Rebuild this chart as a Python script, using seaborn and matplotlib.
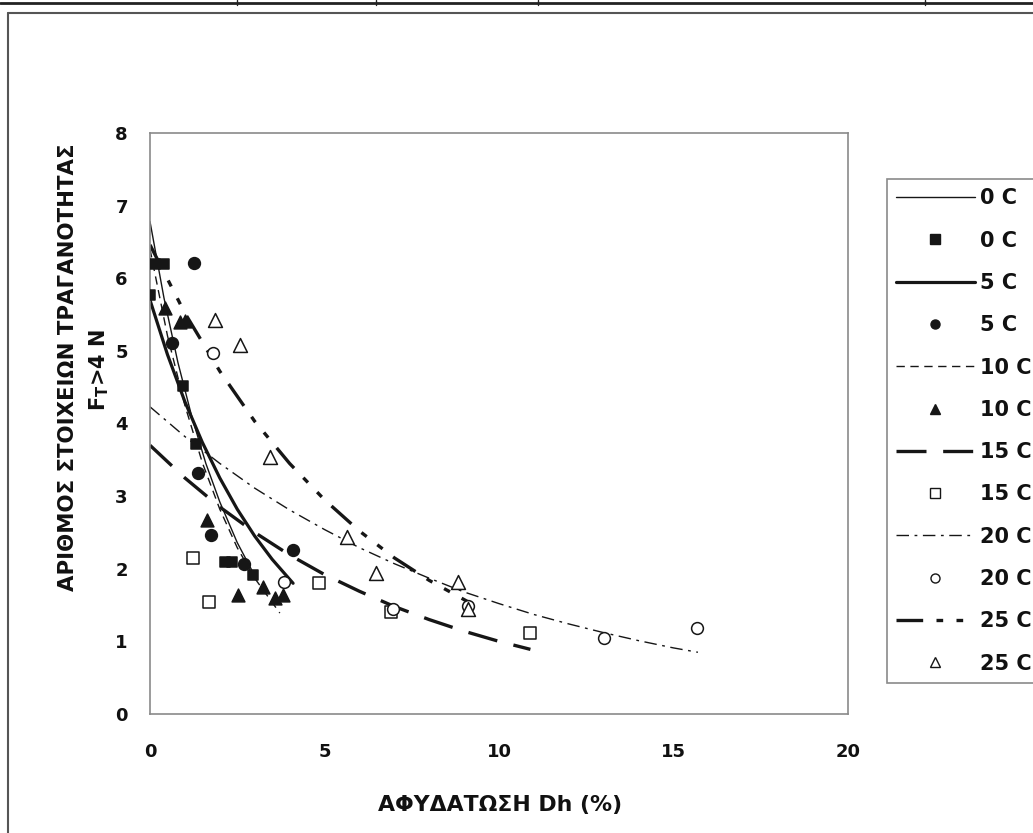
import numpy as np
import pandas as pd
import matplotlib
matplotlib.use("Agg")
import matplotlib.pyplot as plt
import seaborn as sns
from matplotlib.lines import Line2D

# ---------------- data ----------------
temps = ["0 C", "5 C", "10 C", "15 C", "20 C", "25 C"]

# measured points
x0 = [0.0, 0.15, 0.40, 0.95, 1.32, 2.15, 2.35, 2.95]
y0 = [5.77, 6.20, 6.20, 4.52, 3.72, 2.09, 2.09, 1.91]
x5 = [1.26, 0.63, 1.38, 1.75, 2.69, 4.10]
y5 = [6.21, 5.11, 3.32, 2.47, 2.06, 2.26]
x10 = [0.43, 0.86, 1.00, 1.63, 2.52, 3.24, 3.58, 3.81]
y10 = [5.59, 5.40, 5.41, 2.67, 1.64, 1.75, 1.60, 1.64]
x15 = [1.23, 1.69, 4.84, 6.90, 10.89]
y15 = [2.15, 1.54, 1.80, 1.40, 1.12]
x20 = [1.80, 3.84, 6.95, 9.10, 13.00, 15.67]
y20 = [4.97, 1.82, 1.45, 1.49, 1.05, 1.19]
x25 = [1.86, 2.58, 3.44, 5.64, 6.48, 8.82, 9.10]
y25 = [5.43, 5.08, 3.54, 2.44, 1.94, 1.82, 1.45]

# trend lines
tx0 = [0, 0.4, 0.8, 1.2, 1.6, 2.0, 2.5, 2.95]
ty0 = [6.78, 5.73, 4.84, 4.09, 3.45, 2.92, 2.36, 1.95]
tx5 = [0, 0.5, 1, 1.5, 2, 2.5, 3, 3.5, 4.1]
ty5 = [5.70, 4.95, 4.30, 3.74, 3.25, 2.82, 2.45, 2.13, 1.80]
tx10 = [0, 0.5, 1, 1.5, 2, 2.5, 3, 3.72]
ty10 = [6.40, 5.21, 4.25, 3.46, 2.82, 2.29, 1.87, 1.39]
tx15 = [0, 1, 2, 3, 4, 5, 6, 7, 8, 9, 10, 10.9]
ty15 = [3.70, 3.25, 2.85, 2.50, 2.19, 1.92, 1.69, 1.48, 1.30, 1.14, 1.00, 0.89]
tx20 = [0, 1, 2, 3, 4, 5, 6, 7, 8, 9, 10, 11, 12, 13, 14, 15, 15.7]
ty20 = [4.23, 3.82, 3.45, 3.11, 2.81, 2.54, 2.29, 2.07, 1.87, 1.68, 1.52,
        1.37, 1.24, 1.12, 1.01, 0.91, 0.85]
tx25 = [0, 1, 2, 3, 4, 5, 6, 7, 8, 9.17]
ty25 = [6.46, 5.52, 4.72, 4.03, 3.45, 2.95, 2.52, 2.15, 1.84, 1.53]

xticks = [0, 5, 10, 15, 20]
yticks = [0, 1, 2, 3, 4, 5, 6, 7, 8]
xlabel = "ΑΦΥΔΑΤΩΣΗ Dh (%)"
ylabel1 = "ΑΡΙΘΜΟΣ ΣΤΟΙΧΕΙΩΝ ΤΡΑΓΑΝΟΤΗΤΑΣ"
ylabel2 = r"F$_{T}$>4 N"

# ---------------- style ----------------
sns.set_theme(style="white")
plt.rcParams["font.family"] = ["DejaVu Sans"]
plt.rcParams["font.weight"] = "bold"
plt.rcParams["mathtext.fontset"] = "custom"
plt.rcParams["mathtext.rm"] = "DejaVu Sans:bold"
plt.rcParams["mathtext.it"] = "DejaVu Sans:bold"
plt.rcParams["mathtext.default"] = "rm"

W, H = 1033, 833
fig = plt.figure(figsize=(W / 100, H / 100), dpi=100)
fig.patch.set_facecolor("white")
ax = fig.add_axes([150 / W, 1 - 714 / H, (848 - 150) / W, (714 - 133) / H])

ink = "#161616"
txt = "#111111"
line_specs = [
    (tx0, ty0, 1.0, "-"),
    (tx5, ty5, 2.3, "-"),
    (tx10, ty10, 1.0, (0, (6, 4))),
    (tx15, ty15, 2.4, (0, (9, 5))),
    (tx20, ty20, 1.0, (0, (9, 4, 2, 4))),
    (tx25, ty25, 2.4, (0, (8, 4, 2, 4, 2, 4))),
]
pt_specs = [
    (x0, y0, "s", ink, 62),
    (x5, y5, "o", ink, 72),
    (x10, y10, "^", ink, 85),
    (x15, y15, "s", "white", 70),
    (x20, y20, "o", "white", 72),
    (x25, y25, "^", "white", 100),
]

handles, labels = [], []
for name, (lx, ly, lw, ls), (px, py, mk, fc, sz) in zip(temps, line_specs, pt_specs):
    dl = pd.DataFrame({"x": lx, "y": ly})
    sns.lineplot(data=dl, x="x", y="y", ax=ax, color=ink, linewidth=lw,
                 linestyle=ls, sort=False, estimator=None, legend=False)
    dp = pd.DataFrame({"x": px, "y": py})
    sns.scatterplot(data=dp, x="x", y="y", ax=ax, marker=mk, s=sz,
                    color=fc, edgecolor=ink, linewidth=1.1, legend=False, zorder=3)
    handles.append(Line2D([], [], color=ink, linewidth=lw, linestyle=ls))
    labels.append(name)
    handles.append(Line2D([], [], linestyle="none", marker=mk, markersize=6.5,
                          markerfacecolor=fc, markeredgecolor=ink, markeredgewidth=1.0))
    labels.append(name)

ax.set_xlim(0, 20)
ax.set_ylim(0, 8)
ax.set_xticks(xticks)
ax.set_yticks(yticks)
ax.set_xlabel("")
ax.set_ylabel("")
for s in ax.spines.values():
    s.set_color("#8a8a8a")
    s.set_linewidth(1.2)
ax.tick_params(axis="both", which="major", direction="out", length=6, width=1,
               color="#8a8a8a", labelsize=13, labelcolor=txt)
ax.tick_params(axis="x", pad=15)
ax.tick_params(axis="y", pad=10)
for t in ax.get_xticklabels() + ax.get_yticklabels():
    t.set_fontweight("bold")

fig.text(500 / W, 1 - 805 / H, xlabel, ha="center", va="center",
         fontsize=15.8, fontweight="bold", color=txt)
fig.text(68 / W, 1 - 367 / H, ylabel1, ha="center", va="center", rotation=90,
         fontsize=15.3, fontweight="bold", color=txt)
fig.text(99 / W, 1 - 370 / H, ylabel2, ha="center", va="center", rotation=90,
         fontsize=15, fontweight="bold", color=txt)

leg = fig.legend(handles, labels, loc="upper left",
                 bbox_to_anchor=(887 / W, 1 - 179 / H), frameon=True,
                 fancybox=False, framealpha=1, edgecolor="#8a8a8a",
                 prop={"size": 15, "weight": "bold"}, handlelength=3.75,
                 handletextpad=0.25, labelspacing=1.07, borderpad=0.45,
                 borderaxespad=0)
leg.get_frame().set_linewidth(1.2)
for t in leg.get_texts():
    t.set_color(txt)

# outer frame lines of the scanned page
fig.add_artist(Line2D([8 / W, 8 / W], [0, 1 - 13 / H], color="#555555", linewidth=1.5))
fig.add_artist(Line2D([8 / W, 1], [1 - 13 / H, 1 - 13 / H], color="#555555", linewidth=1.5))
fig.add_artist(Line2D([0, 1], [1 - 3 / H, 1 - 3 / H], color="#222222", linewidth=2.0))
for vx in [237, 376, 538, 925]:
    fig.add_artist(Line2D([vx / W, vx / W], [1 - 5 / H, 1], color="#222222", linewidth=1.0))

fig.savefig("out.png", dpi=100, facecolor="white")
